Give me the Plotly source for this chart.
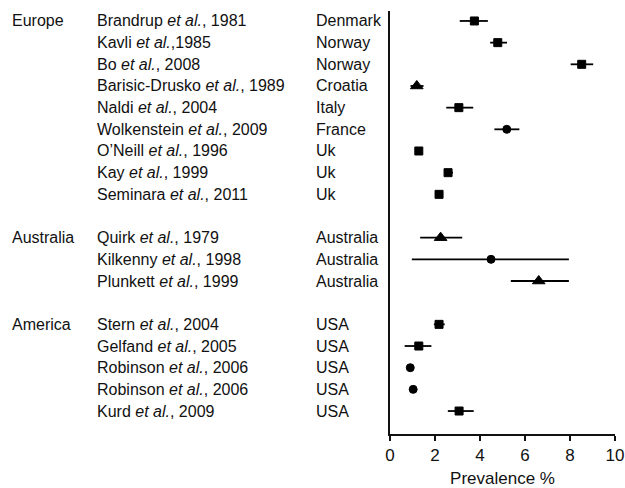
import plotly.graph_objects as go

regions = ["Europe", "Australia", "America"]
region_rows = [0, 10, 14]
studies = ["Brandrup <i>et al.</i>, 1981", "Kavli <i>et al.</i>,1985", "Bo <i>et al.</i>, 2008",
           "Barisic-Drusko <i>et al.</i>, 1989", "Naldi <i>et al.</i>, 2004", "Wolkenstein <i>et al.</i>, 2009",
           "O\u2019Neill <i>et al.</i>, 1996", "Kay <i>et al.</i>, 1999", "Seminara <i>et al.</i>, 2011",
           "Quirk <i>et al.</i>, 1979", "Kilkenny <i>et al.</i>, 1998", "Plunkett <i>et al.</i>, 1999",
           "Stern <i>et al.</i>, 2004", "Gelfand <i>et al.</i>, 2005", "Robinson <i>et al.</i>, 2006",
           "Robinson <i>et al.</i>, 2006", "Kurd <i>et al.</i>, 2009"]
countries = ["Denmark", "Norway", "Norway", "Croatia", "Italy", "France", "Uk", "Uk", "Uk",
             "Australia", "Australia", "Australia", "USA", "USA", "USA", "USA", "USA"]
rows = [0, 1, 2, 3, 4, 5, 6, 7, 8, 10, 11, 12, 14, 15, 16, 17, 18]
prevalence = [3.75, 4.79, 8.52, 1.19, 3.06, 5.19, 1.28, 2.58, 2.18,
              2.25, 4.49, 6.61, 2.18, 1.28, 0.90, 1.03, 3.07]
ci_low = [3.10, 4.45, 8.03, 0.91, 2.50, 4.64, 1.28, 2.40, 2.18,
          1.34, 0.97, 5.37, 1.95, 0.65, 0.90, 1.03, 2.57]
ci_high = [4.35, 5.20, 9.03, 1.49, 3.70, 5.75, 1.28, 2.80, 2.18,
           3.21, 7.95, 7.95, 2.43, 1.84, 0.90, 1.03, 3.72]
symbols = ["square", "square", "square", "triangle-up", "square", "circle", "square", "square", "square",
           "triangle-up", "circle", "triangle-up", "square", "square", "circle", "circle", "square"]
x_ticks = [0, 2, 4, 6, 8, 10]

W, H = 625, 488
ml, mr, mt, mb = 390, 10, 11, 54
pw = W - ml - mr

def px_to_paper(px):
    return (px - ml) / pw

sizes = [11 if s == "triangle-up" else 8 for s in symbols]
FAM = "Liberation Sans, Arial, sans-serif"
TXT = "#111111"

fig = go.Figure()
fig.add_trace(go.Scatter(
    x=prevalence, y=rows, mode="markers",
    marker=dict(symbol=symbols, size=sizes, color="black", opacity=1,
                line=dict(width=1, color="black")),
    error_x=dict(type="data", symmetric=False,
                 array=[h - p for h, p in zip(ci_high, prevalence)],
                 arrayminus=[p - l for l, p in zip(ci_low, prevalence)],
                 color="black", thickness=1.8, width=0),
    showlegend=False, cliponaxis=False, hoverinfo="skip",
))

font = dict(family=FAM, size=16, color=TXT)
ann = []
for r, name in zip(region_rows, regions):
    ann.append(dict(x=px_to_paper(10), y=r, xref="paper", yref="y", text=name,
                    xanchor="left", yanchor="middle", showarrow=False, font=font))
for r, s, c in zip(rows, studies, countries):
    ann.append(dict(x=px_to_paper(95), y=r, xref="paper", yref="y", text=s,
                    xanchor="left", yanchor="middle", showarrow=False, font=font))
    ann.append(dict(x=px_to_paper(314), y=r, xref="paper", yref="y", text=c,
                    xanchor="left", yanchor="middle", showarrow=False, font=font))

fig.update_layout(
    width=W, height=H, margin=dict(l=ml, r=mr, t=mt, b=mb, autoexpand=False),
    paper_bgcolor="white", plot_bgcolor="white",
    annotations=ann,
    xaxis=dict(range=[0, 10], tickvals=x_ticks, ticks="outside", ticklen=5, tickwidth=1.5,
               tickcolor="#111111", showline=True, linecolor="#111111", linewidth=1.5,
               showgrid=False, zeroline=False, automargin=False,
               tickfont=dict(family=FAM, size=17, color=TXT),
               title=dict(text="Prevalence %", standoff=8,
                          font=dict(family=FAM, size=17, color=TXT))),
    yaxis=dict(range=[19.06, -0.46], showline=True, linecolor="#111111", linewidth=1.5,
               showticklabels=False, ticks="", showgrid=False, zeroline=False, automargin=False),
)

fig.write_html("out.html", config={"displayModeBar": False},
               post_script="document.body.style.margin='0px';")
